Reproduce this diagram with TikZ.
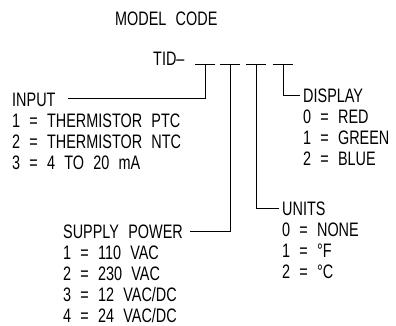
\documentclass[tikz,border=0pt]{standalone}
\usepackage{fontspec}
\setmainfont{Liberation Sans}[FakeStretch=0.74, WordSpace=2.3]
\usetikzlibrary{positioning}

\tikzset{
  lbl/.style={anchor=base west, inner sep=0pt, font=\fontsize{19.5}{21}\selectfont},
  bar/.style={line width=1pt},
  lead/.style={line width=1pt, shorten >=3pt}
}

\begin{document}
\begin{tikzpicture}[x=1pt, y=-1pt]
  \useasboundingbox (0,0) rectangle (396,325);

  % title and code
  \node[lbl] (title) at (115,25) {MODEL CODE};
  \node[lbl] (tid) at (153,65) {TID–};

  % the four places of the code
  \foreach \n/\x in {b1/205, b2/230, b3/256, b4/283} {
    \coordinate (\n) at (\x,64);
    \draw[bar] ([xshift=-10pt]\n) -- ([xshift=10pt]\n);
  }

  % input
  \node[lbl] (input) at (12,106) {INPUT};
  \foreach \t [count=\i] in {1 = THERMISTOR PTC, 2 = THERMISTOR NTC, 3 = 4 TO 20 mA}
    \node[lbl] (input\i) at (12,106+21*\i) {\t};
  \coordinate (inend) at (68,98);
  \draw[bar] (b1) |- (inend);

  % supply power
  \node[lbl] (supply) at (63,238) {SUPPLY POWER};
  \foreach \t [count=\i] in {1 = 110 VAC, 2 = 230 VAC, 3 = 12 VAC/DC, 4 = 24 VAC/DC}
    \node[lbl] (supply\i) at (63,238+21*\i) {\t};
  \coordinate (supend) at (190,231);
  \draw[bar] (b2) |- (supend);

  % units
  \node[lbl] (units) at (282,215) {UNITS};
  \foreach \t [count=\i] in {0 = NONE, 1 = °F, 2 = °C}
    \node[lbl] (units\i) at (282,215+21*\i) {\t};
  \draw[lead] (b3) |- (units.west);

  % display
  \node[lbl] (display) at (303,102) {DISPLAY};
  \foreach \t [count=\i] in {0 = RED, 1 = GREEN, 2 = BLUE}
    \node[lbl] (display\i) at (303,102+21*\i) {\t};
  \draw[lead] (b4) |- (display.west);
\end{tikzpicture}
\end{document}
